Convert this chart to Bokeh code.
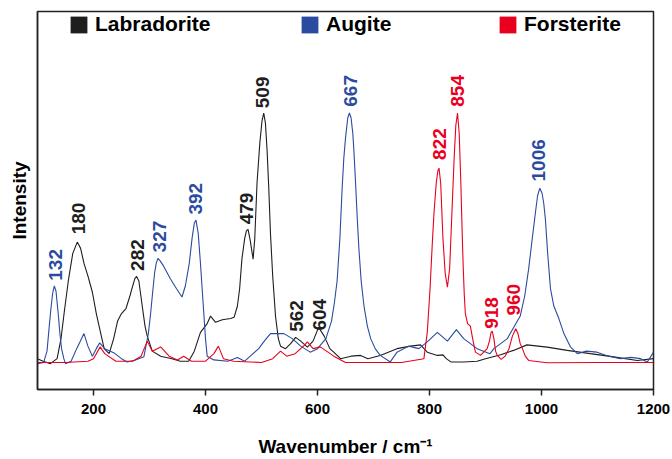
import math
from bokeh.plotting import figure
from bokeh.models import Range1d, FixedTicker, Legend, LegendItem, ColumnDataSource
from bokeh.core.properties import value
from bokeh.embed import file_html
from bokeh.resources import INLINE

# ---- data (wavenumber / cm-1, normalised intensity) ----
lab_wn = [100, 110, 123, 135, 142, 148, 155, 163, 171, 177, 183, 190, 198, 205, 210, 219, 228, 236,
          243, 250, 258, 265, 270, 274, 277, 281, 287, 292, 296, 305, 320, 340, 355, 370, 380, 391,
          403, 409, 418, 430, 445, 451, 457, 461, 465, 470, 473, 476, 480, 485, 488, 492, 497, 501,
          504, 507, 510, 513, 516, 520, 525, 530, 534, 543, 552, 561, 570, 582, 592, 602, 612, 622,
          629, 641, 660, 677, 690, 712, 742, 766, 784, 796, 814, 824, 830, 838, 861, 885, 900, 927,
          950, 974, 1010, 1046, 1087, 1129, 1171, 1200]
lab_int = [0.02, 0.01, 0.0, 0.02, 0.1, 0.21, 0.33, 0.44, 0.485, 0.46, 0.40, 0.35, 0.285, 0.2, 0.15,
           0.06, 0.04, 0.10, 0.17, 0.2, 0.22, 0.27, 0.31, 0.34, 0.348, 0.33, 0.23, 0.15, 0.11, 0.05,
           0.03, 0.02, 0.01, 0.01, 0.05, 0.125, 0.16, 0.19, 0.165, 0.175, 0.18, 0.185, 0.23, 0.3,
           0.417, 0.5, 0.53, 0.536, 0.49, 0.417, 0.5, 0.72, 0.88, 0.97, 1.0, 0.96, 0.85, 0.7, 0.52,
           0.35, 0.19, 0.1, 0.07, 0.06, 0.08, 0.105, 0.09, 0.066, 0.09, 0.145, 0.11, 0.06, 0.046,
           0.02, 0.03, 0.033, 0.02, 0.033, 0.06, 0.07, 0.075, 0.046, 0.033, 0.035, 0.02, 0.007,
           0.007, 0.01, 0.02, 0.036, 0.053, 0.075, 0.066, 0.053, 0.04, 0.027, 0.013, 0.02]

aug_wn = [100, 111, 117, 121, 124, 127, 130, 133, 137, 140, 143, 147, 150, 160, 170, 183, 190, 198,
          205, 211, 220, 236, 250, 260, 275, 290, 298, 302, 305, 309, 312, 315, 319, 325, 337, 348,
          358, 364, 371, 376, 380, 383, 387, 391, 394, 397, 400, 403, 415, 440, 457, 470, 480, 495,
          505, 516, 540, 555, 570, 587, 600, 615, 625, 630, 635, 640, 644, 647, 650, 654, 657, 660,
          663, 665, 668, 671, 674, 678, 683, 689, 695, 703, 712, 730, 742, 763, 781, 796, 814, 832,
          848, 861, 885, 908, 915, 939, 962, 970, 977, 983, 989, 993, 997, 1001, 1004, 1007, 1011,
          1016, 1022, 1031, 1040, 1052, 1064, 1080, 1099, 1120, 1141, 1160, 1177, 1189, 1200]
aug_int = [0.0, 0.005, 0.05, 0.15, 0.22, 0.28, 0.31, 0.29, 0.2, 0.12, 0.06, 0.02, 0.0, 0.01, 0.06,
           0.12, 0.07, 0.03, 0.06, 0.083, 0.06, 0.044, 0.02, 0.007, 0.015, 0.028, 0.12, 0.2, 0.27,
           0.36, 0.40, 0.42, 0.41, 0.39, 0.34, 0.30, 0.266, 0.31, 0.40, 0.5, 0.56, 0.573, 0.52, 0.40,
           0.3, 0.2, 0.1, 0.03, 0.015, 0.01, 0.025, 0.01, 0.03, 0.06, 0.09, 0.12, 0.12, 0.10, 0.07,
           0.046, 0.06, 0.10, 0.17, 0.24, 0.33, 0.5, 0.70, 0.82, 0.90, 0.98, 1.0, 0.98, 0.92, 0.85,
           0.72, 0.58, 0.456, 0.33, 0.23, 0.15, 0.10, 0.06, 0.033, 0.007, 0.046, 0.07, 0.06, 0.087,
           0.125, 0.09, 0.136, 0.10, 0.06, 0.04, 0.06, 0.10, 0.19, 0.27, 0.377, 0.49, 0.60, 0.67,
           0.70, 0.68, 0.64, 0.575, 0.44, 0.30, 0.23, 0.18, 0.12, 0.066, 0.04, 0.05, 0.046, 0.03,
           0.02, 0.025, 0.02, 0.007, 0.046]

for_wn = [100, 150, 190, 200, 212, 220, 240, 270, 285, 296, 305, 320, 335, 350, 361, 375, 400, 415,
          423, 432, 450, 500, 520, 534, 545, 560, 575, 582, 592, 605, 629, 650, 700, 750, 790, 796,
          801, 805, 808, 812, 815, 817, 820, 824, 828, 832, 836, 840, 844, 847, 850, 853, 856, 858,
          860, 862, 864, 868, 873, 877, 882, 891, 903, 907, 910, 912, 915, 918, 921, 928, 935, 942,
          948, 954, 958, 962, 966, 971, 977, 1010, 1100, 1200]
for_int = [0.005, 0.005, 0.01, 0.02, 0.067, 0.04, 0.01, 0.01, 0.03, 0.09, 0.05, 0.067, 0.03, 0.015,
           0.03, 0.01, 0.01, 0.04, 0.07, 0.02, 0.01, 0.005, 0.02, 0.05, 0.03, 0.04, 0.07, 0.087, 0.06,
           0.067, 0.03, 0.005, 0.005, 0.005, 0.02, 0.125, 0.30, 0.48, 0.60, 0.72, 0.77, 0.78, 0.72,
           0.5, 0.36, 0.305, 0.38, 0.6, 0.82, 0.95, 1.0, 0.92, 0.72, 0.55, 0.4, 0.28, 0.2, 0.16,
           0.15, 0.1, 0.046, 0.033, 0.06, 0.09, 0.125, 0.13, 0.1, 0.05, 0.033, 0.017, 0.03, 0.06,
           0.11, 0.139, 0.12, 0.08, 0.06, 0.03, 0.013, 0.004, 0.005, 0.005]

# peak labels: text, anchor wavenumber, anchor intensity
lab_peaks = ["180", "282", "479", "509", "562", "604"]
lab_peak_wn = [172.9, 278.6, 472.9, 501.3, 562.1, 603.6]
lab_peak_y = [0.516, 0.370, 0.556, 1.019, 0.127, 0.132]

aug_peaks = ["132", "327", "392", "667", "1006"]
aug_peak_wn = [131.3, 317.3, 382.1, 658.9, 995.5]
aug_peak_y = [0.331, 0.444, 0.595, 1.025, 0.727]

for_peaks = ["822", "854", "918", "960"]
for_peak_wn = [817.0, 849.6, 910.7, 949.5]
for_peak_y = [0.813, 1.025, 0.139, 0.192]

x_ticks = [200, 400, 600, 800, 1000, 1200]
series_names = ["Labradorite", "Augite", "Forsterite"]

# ---- styling ----
C_LAB = "#1e1e1e"
C_AUG = "#2a4ba0"
C_FOR = "#e8001e"
FONT = "Liberation Sans"

p = figure(width=672, height=459, output_backend="svg", toolbar_location=None,
           x_range=Range1d(100, 1200), y_range=Range1d(-0.103, 1.405),
           min_border_left=37, min_border_right=19, min_border_top=11, min_border_bottom=68)
p.background_fill_color = "white"
p.border_fill_color = "white"
p.outline_line_color = "#222222"
p.outline_line_width = 1.5
p.xgrid.visible = False
p.ygrid.visible = False

xa = p.xaxis[0]
xa.ticker = FixedTicker(ticks=x_ticks)
xa.major_tick_out = 6
xa.major_tick_in = 0
xa.minor_tick_out = 0
xa.minor_tick_line_color = None
xa.axis_line_color = "#222222"
xa.axis_line_width = 1.5
xa.major_tick_line_color = "#222222"
xa.major_tick_line_width = 1.5
xa.major_label_text_font = FONT
xa.major_label_text_font_style = "bold"
xa.major_label_text_font_size = "15px"
xa.major_label_text_color = "black"
xa.major_label_standoff = 8
xa.axis_label = "Wavenumber / cm\u207b\u00b9"
xa.axis_label_text_font = FONT
xa.axis_label_text_font_style = "bold"
xa.axis_label_text_font_size = "19px"
xa.axis_label_text_color = "black"
xa.axis_label_standoff = 19

ya = p.yaxis[0]
ya.ticker = FixedTicker(ticks=[])
ya.major_tick_out = 0
ya.major_tick_in = 0
ya.minor_tick_out = 0
ya.minor_tick_in = 0
ya.major_label_standoff = 0
ya.major_tick_line_color = None
ya.minor_tick_line_color = None
ya.axis_line_color = "#222222"
ya.axis_line_width = 1.5
ya.axis_label = "Intensity"
ya.axis_label_text_font = FONT
ya.axis_label_text_font_style = "bold"
ya.axis_label_text_font_size = "19px"
ya.axis_label_text_color = "black"
ya.axis_label_standoff = 8

# ---- spectra ----
p.line(lab_wn, lab_int, line_color=C_LAB, line_width=1.1)
p.line(aug_wn, aug_int, line_color=C_AUG, line_width=1.1)
p.line(for_wn, for_int, line_color=C_FOR, line_width=1.1)

# ---- peak labels ----
for txt, xs, ys, col in [(lab_peaks, lab_peak_wn, lab_peak_y, C_LAB),
                         (aug_peaks, aug_peak_wn, aug_peak_y, C_AUG),
                         (for_peaks, for_peak_wn, for_peak_y, C_FOR)]:
    src = ColumnDataSource(dict(x=xs, y=ys, t=txt))
    p.text(x="x", y="y", text="t", source=src, angle=math.pi / 2,
           text_align="left", text_baseline="middle",
           text_font=value(FONT), text_font_style="bold", text_font_size="19px",
           text_color=col)

# ---- legend (three separate entries; proxies are hidden, zero-size) ----
legend_x = [31, 262, 460]
for name, col, lx, wn in zip(series_names, [C_LAB, C_AUG, C_FOR], legend_x,
                             [lab_wn, aug_wn, for_wn]):
    proxy = p.quad(left=[wn[0]], right=[wn[0]], top=[0], bottom=[0],
                   fill_color=col, line_color=None, visible=False)
    leg = Legend(items=[LegendItem(label=name, renderers=[proxy])],
                 location=(lx, 353), orientation="horizontal",
                 glyph_width=21, glyph_height=21, label_height=21,
                 label_standoff=6, padding=0, margin=0, spacing=0,
                 border_line_color=None, background_fill_alpha=0,
                 inactive_fill_alpha=0,
                 label_text_font=FONT, label_text_font_style="bold",
                 label_text_font_size="21px", label_text_color="black")
    p.add_layout(leg, "center")

open("out.html", "w").write(file_html(p, INLINE))
